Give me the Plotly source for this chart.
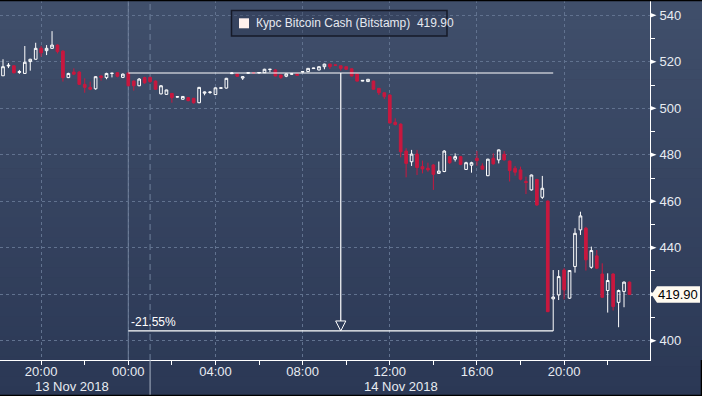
import plotly.graph_objects as go
import pandas as pd

# ---------------- data (15-minute candles, Bitcoin Cash / Bitstamp) ----------------
start_time = "2018-11-13 18:15"
bar_minutes = 15
open_ = [514.0, 518.2, 518.3, 515.4, 515.0, 520.1, 521.1, 525.8, 524.8, 525.8, 527.2, 524.6,
         513.2, 515.6, 515.6, 510.3, 509.0, 508.4, 513.9, 513.2, 515.0, 515.3, 513.3,
         515.2, 511.7, 509.7, 513.2, 513.3, 511.7, 506.2, 506.0, 506.4, 504.8, 503.9, 504.6,
         504.3, 502.4, 506.5, 506.8, 505.9, 508.6, 508.7, 514.9, 514.8, 513.0, 515.1, 515.3,
         515.2, 515.3, 516.7, 516.5, 514.3, 513.8, 514.7, 514.8, 515.6, 515.8, 517.1, 516.5,
         517.9, 519.0, 518.7, 518.3, 517.9, 517.0, 514.8, 511.7, 511.5, 511.7, 508.6, 506.7,
         505.7, 494.0, 493.2, 481.6, 477.0, 480.3, 474.9, 474.2, 475.6, 472.0, 472.8, 479.2,
         478.1, 479.2, 473.7, 475.5, 478.5, 475.2, 471.0, 478.5, 477.8, 480.2, 477.3, 474.2,
         473.5, 468.5, 464.9, 469.4, 461.7, 460.1, 418.0, 419.7, 430.4, 418.3, 431.9, 447.7,
         448.4, 431.6, 436.5, 428.7, 421.6, 428.7, 416.5, 421.2, 425.2]
high = [521.1, 519.5, 518.5, 516.5, 526.8, 521.3, 528.2, 526.8, 527.2, 533.2, 527.5, 525.0,
        515.3, 517.2, 516.0, 512.9, 511.5, 513.8, 514.2, 515.3, 515.1, 515.5, 515.0,
        515.3, 512.0, 513.0, 513.6, 513.6, 512.0, 510.0, 508.0, 506.6, 505.2, 505.2, 504.8,
        504.5, 509.2, 507.2, 507.3, 509.0, 508.9, 513.1, 515.4, 515.2, 513.8, 515.5, 515.4,
        515.5, 517.0, 516.9, 516.8, 514.5, 515.0, 514.9, 514.9, 515.9, 517.3, 517.4, 518.0,
        519.2, 519.2, 518.8, 518.4, 518.0, 517.1, 514.9, 512.1, 512.6, 511.9, 508.7, 506.8,
        506.0, 495.7, 493.5, 482.8, 482.1, 482.1, 477.5, 476.6, 476.0, 477.1, 482.0, 479.5,
        480.6, 479.5, 477.0, 477.0, 481.6, 476.3, 478.3, 480.6, 482.3, 481.6, 477.5, 475.2,
        474.9, 470.6, 471.5, 469.6, 470.9, 460.3, 430.4, 430.4, 431.2, 430.4, 448.4, 455.5,
        449.0, 440.5, 439.0, 433.3, 429.0, 429.0, 422.0, 425.5, 425.5]
low = [514.0, 517.3, 515.0, 514.8, 515.0, 516.2, 521.0, 522.2, 522.9, 525.5, 523.6, 511.5,
       513.0, 514.3, 510.0, 506.7, 507.8, 508.0, 511.9, 512.5, 513.3, 513.3, 513.0,
       509.5, 507.6, 509.5, 510.5, 511.0, 508.0, 506.0, 505.8, 502.4, 504.6, 503.8, 503.0,
       502.0, 502.2, 505.6, 506.2, 505.7, 508.5, 508.5, 514.8, 513.5, 512.2, 514.9, 515.0,
       515.0, 515.2, 515.6, 513.8, 512.6, 513.4, 514.6, 514.1, 515.5, 515.6, 517.0, 516.3,
       516.8, 516.9, 518.3, 516.2, 516.6, 513.7, 511.5, 511.6, 511.4, 508.0, 505.7, 504.0,
       493.5, 492.6, 478.9, 470.3, 475.2, 471.3, 472.0, 472.7, 464.9, 471.8, 472.5, 476.0,
       477.1, 475.5, 473.5, 472.3, 475.3, 473.5, 470.8, 475.8, 476.3, 477.5, 468.5, 471.0,
       469.0, 463.1, 464.6, 458.0, 461.0, 412.3, 404.2, 417.5, 417.8, 418.0, 429.3, 445.5,
       430.2, 431.0, 430.8, 418.5, 412.1, 413.0, 405.8, 414.4, 419.8]
close = [517.9, 518.5, 515.3, 515.8, 519.8, 521.1, 525.8, 523.9, 525.8, 527.2, 524.4, 513.2,
         515.0, 514.7, 510.3, 509.0, 508.2, 513.6, 513.3, 515.0, 515.1, 513.8, 514.7,
         509.7, 509.7, 512.6, 511.0, 511.5, 508.2, 509.7, 507.9, 504.6, 505.0, 505.1, 503.3,
         502.4, 509.0, 507.0, 507.0, 508.8, 508.8, 512.9, 515.2, 513.8, 513.6, 515.3, 515.2,
         515.4, 516.8, 516.8, 513.9, 513.3, 514.8, 514.8, 514.2, 515.8, 517.2, 517.3, 517.9,
         519.0, 517.9, 518.5, 517.2, 516.8, 513.9, 511.7, 512.0, 512.5, 508.2, 506.7, 505.0,
         493.7, 493.0, 481.3, 476.3, 480.3, 474.5, 473.9, 473.5, 471.6, 473.0, 481.6, 476.6,
         479.2, 475.9, 476.6, 476.6, 477.5, 473.8, 478.1, 476.1, 482.1, 477.8, 473.2, 472.5,
         469.5, 468.1, 471.3, 458.4, 465.6, 412.5, 418.8, 427.6, 421.9, 430.2, 446.2, 453.7,
         434.8, 438.8, 431.2, 418.7, 425.9, 414.7, 421.6, 425.2, 419.9]

y_ticks = [400, 420, 440, 460, 480, 500, 520, 540]
y_tick_text = ["400", "", "440", "460", "480", "500", "520", "540"]  # 420 hidden under price label
date_labels = ["13 Nov 2018", "14 Nov 2018"]
date_label_pos = ["2018-11-13 21:25", "2018-11-14 12:30"]
legend_text = "Курс Bitcoin Cash (Bitstamp)\u00a0\u00a0419.90"
last_price = 419.90
measure_start, measure_end = "2018-11-14 00:00", "2018-11-14 19:30"
measure_mid = "2018-11-14 09:45"
measure_from, measure_to = 515.2, 404.2
measure_label = "-21.55%"
day_sep = "2018-11-14 01:00"

times = pd.date_range(start_time, periods=len(close), freq=f"{bar_minutes}min")

# ---------------- layout geometry ----------------
W, H = 702, 396
ML, MR, MT, MB = 0, 52, 0, 36
PW, PH = W - ML - MR, H - MT - MB
Y_RANGE = [391.7, 546.6]
X_RANGE = ["2018-11-13 18:06:43", "2018-11-14 23:56:30"]


def px(xp):
    return xp / PW


def py(yp):
    return 1 - yp / PH


def vp(v):
    return (v - Y_RANGE[0]) / (Y_RANGE[1] - Y_RANGE[0])


def dstr(ts):
    return ts.strftime("%Y-%m-%d_%H:%M:%S")


RED = "#c8183f"
GRID = "#61728f"
TXT = "#e8ecf2"
FONT = "Liberation Sans"

fig = go.Figure()
fig.add_trace(go.Candlestick(
    x=times, open=open_, high=high, low=low, close=close,
    increasing=dict(line=dict(color="#ffffff", width=1), fillcolor="rgba(0,0,0,0)"),
    decreasing=dict(line=dict(color=RED, width=1), fillcolor=RED),
    whiskerwidth=0, showlegend=False, hoverinfo="skip",
))

shapes = []
# vertical gradient background
top_c = (64, 79, 107)
bot_c = (43, 56, 85)
N = 40
for i in range(N):
    t = (i + 0.5) / N
    c = tuple(round(top_c[k] + (bot_c[k] - top_c[k]) * t) for k in range(3))
    shapes.append(dict(type="rect", xref="paper", yref="paper",
                       x0=0, x1=px(W), y0=py(H * i / N), y1=py(H * (i + 1) / N + 0.5),
                       fillcolor="rgb(%d,%d,%d)" % c, line=dict(width=0), layer="below"))
# start line of the measurement (00:00) and day separator
shapes.append(dict(type="line", xref="x", yref="paper", x0=measure_start, x1=measure_start,
                   y0=0, y1=1, line=dict(color="#7b8aa4", width=1), layer="below"))
shapes.append(dict(type="line", xref="x", yref="paper", x0=day_sep, x1=day_sep,
                   y0=0, y1=1, line=dict(color="#6f809c", width=1, dash="6px,4px"), layer="below"))
shapes.append(dict(type="line", xref="x", yref="paper", x0=day_sep, x1=day_sep,
                   y0=py(PH), y1=py(H), line=dict(color="#aab4c4", width=1)))
# measurement tool
for v in (measure_from, measure_to):
    shapes.append(dict(type="line", xref="x", yref="y", x0=measure_start, x1=measure_end,
                       y0=v, y1=v, line=dict(color="#ffffff", width=1.2)))
arrow_h = 4.3
shapes.append(dict(type="line", xref="x", yref="y", x0=measure_mid, x1=measure_mid,
                   y0=measure_from, y1=measure_to + arrow_h, line=dict(color="#ffffff", width=1.2)))
mid_ts = pd.Timestamp(measure_mid)
half = pd.Timedelta(minutes=14)
shapes.append(dict(type="path", xref="x", yref="y",
                   path="M %s,%f L %s,%f L %s,%f Z" % (
                       dstr(mid_ts - half), measure_to + arrow_h,
                       dstr(mid_ts + half), measure_to + arrow_h,
                       dstr(mid_ts), measure_to),
                   fillcolor="#2f3d5b", line=dict(color="#ffffff", width=1)))
# right axis tick triangles
for v in y_ticks:
    shapes.append(dict(type="path", xref="paper", yref="paper",
                       path="M %f,%f L %f,%f L %f,%f Z" % (
                           px(PW), vp(v) + 2.5 / PH, px(PW + 6.5), vp(v), px(PW), vp(v) - 2.5 / PH),
                       fillcolor="#ffffff", line=dict(width=0)))
# last-price label
lp = vp(last_price)
hh = 8.3 / PH
shapes.append(dict(type="path", xref="paper", yref="paper",
                   path="M %f,%f L %f,%f L %f,%f L %f,%f L %f,%f Z" % (
                       px(PW + 1.5), lp, px(PW + 7), lp + hh, px(W - 2), lp + hh,
                       px(W - 2), lp - hh, px(PW + 7), lp - hh),
                   fillcolor="#fffaf0", line=dict(width=0)))
# legend box
shapes.append(dict(type="rect", xref="paper", yref="paper", x0=px(231.5), x1=px(447),
                   y0=py(36), y1=py(10.5), fillcolor="rgba(40,52,76,0.35)",
                   line=dict(color="#161a28", width=1.5)))
shapes.append(dict(type="rect", xref="paper", yref="paper", x0=px(239), x1=px(249),
                   y0=py(28.3), y1=py(18.3), fillcolor="#fff1ec", line=dict(width=0)))
# figure border (black top / right / bottom)
shapes.append(dict(type="line", xref="paper", yref="paper", x0=0, x1=px(W), y0=py(0.5), y1=py(0.5),
                   line=dict(color="#000000", width=1.5)))
shapes.append(dict(type="line", xref="paper", yref="paper", x0=0, x1=px(W), y0=py(H - 0.5), y1=py(H - 0.5),
                   line=dict(color="#000000", width=1.5)))
shapes.append(dict(type="line", xref="paper", yref="paper", x0=px(W - 0.5), x1=px(W - 0.5), y0=0, y1=py(H),
                   line=dict(color="#000000", width=1.5)))

annotations = []
annotations.append(dict(xref="paper", yref="paper", x=px(254), y=py(23.3), text=legend_text,
                        showarrow=False, xanchor="left", yanchor="middle",
                        font=dict(family=FONT, size=12, color="#e6e9f0")))
annotations.append(dict(xref="paper", yref="paper", x=px(W - 2), y=lp, text="%.2f" % last_price,
                        showarrow=False, xanchor="right", yanchor="middle",
                        font=dict(family=FONT, size=13, color="#000000")))
annotations.append(dict(xref="x", yref="y", x=measure_start, y=measure_to, text=measure_label,
                        showarrow=False, xanchor="left", yanchor="bottom", xshift=1, yshift=0,
                        font=dict(family=FONT, size=12, color="#ffffff")))
for lab, pos in zip(date_labels, date_label_pos):
    annotations.append(dict(xref="x", yref="paper", x=pos, y=py(386), text=lab,
                            showarrow=False, xanchor="center", yanchor="middle",
                            font=dict(family=FONT, size=13, color=TXT)))

fig.update_layout(
    width=W, height=H, margin=dict(l=ML, r=MR, t=MT, b=MB),
    paper_bgcolor="#2c3a56", plot_bgcolor="rgba(0,0,0,0)",
    shapes=shapes, annotations=annotations, showlegend=False,
    xaxis=dict(type="date", range=X_RANGE, rangeslider=dict(visible=False),
               tickformat="%H:%M", tick0="2018-11-13 00:00", dtick=4 * 3600 * 1000,
               ticks="outside", ticklen=4, tickcolor="#ffffff", tickwidth=1,
               ticklabelstandoff=-5,
               minor=dict(dtick=2 * 3600 * 1000, tick0="2018-11-13 00:00", ticks="outside",
                          ticklen=4, tickcolor="#ffffff", showgrid=False),
               showgrid=True, gridcolor=GRID, griddash="3px,3px", gridwidth=1,
               showline=True, linecolor="#ffffff", linewidth=1, zeroline=False,
               tickfont=dict(family=FONT, size=13, color=TXT), fixedrange=True),
    yaxis=dict(side="right", range=Y_RANGE, tickvals=y_ticks, ticktext=y_tick_text,
               ticks="outside", ticklen=6, tickcolor="rgba(0,0,0,0)",
               minor=dict(dtick=10, tick0=0, ticks="outside", ticklen=4, tickcolor="#ffffff",
                          showgrid=False),
               showgrid=True, gridcolor=GRID, griddash="3px,3px", gridwidth=1,
               showline=True, linecolor="#ffffff", linewidth=1, zeroline=False,
               tickfont=dict(family=FONT, size=13, color=TXT), fixedrange=True),
)

fig.write_html("out.html")
